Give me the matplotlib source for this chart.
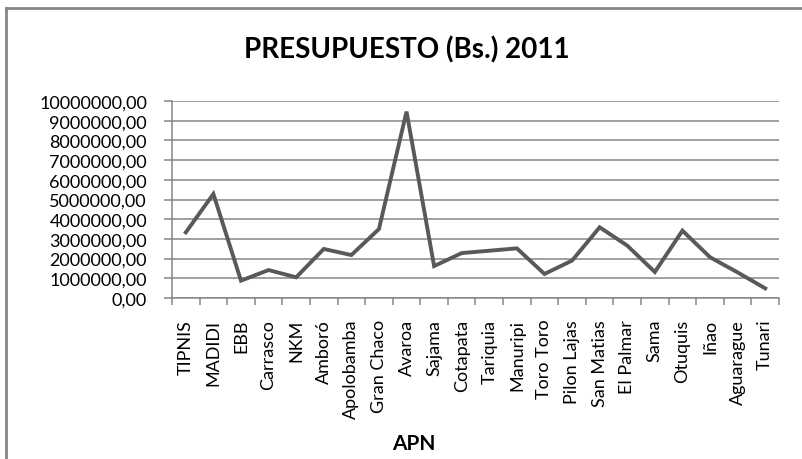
import numpy as np
import matplotlib.pyplot as plt
from matplotlib.lines import Line2D

plt.rcParams['font.family']=['Lato','DejaVu Sans']

# data (Bs.)
apn=['TIPNIS','MADIDI','EBB','Carrasco','NKM','Amboró','Apolobamba','Gran Chaco',
     'Avaroa','Sajama','Cotapata','Tariquia','Manuripi','Toro Toro','Pilon Lajas',
     'San Matias','El Palmar','Sama','Otuquis','Iñao','Aguarague','Tunari']
presupuesto=[3330000,5280000,880000,1420000,1050000,2490000,2180000,3500000,
             9460000,1620000,2280000,2400000,2520000,1220000,1900000,
             3590000,2660000,1320000,3420000,2070000,1300000,490000]
yticks=np.arange(0,10000001,1000000)

W,H=803,460
fig=plt.figure(figsize=(W/100,H/100),dpi=100)
ax=fig.add_axes([172/W,1-299/H,607/W,197/H])

GRID='#868686'
x=np.arange(len(apn))
ax.plot(x,presupuesto,color='#595959',linewidth=2.8,solid_joinstyle='miter')

ax.set_xlim(-0.5,len(apn)-0.5)
ax.set_ylim(0,10000000)
ax.set_yticks(yticks)
ax.set_yticklabels([f"{v:.2f}".replace('.',',') for v in yticks],fontsize=13)
ax.yaxis.grid(True,color=GRID,linewidth=1.1)
ax.set_axisbelow(True)

ax.set_xticks(x)
ax.set_xticklabels(apn,rotation=90,fontsize=13)
ax.set_xticks(np.arange(-0.5,len(apn),1),minor=True)
ax.tick_params(axis='x',which='major',length=0,pad=15)
ax.tick_params(axis='x',which='minor',length=5,color=GRID,width=1.1)
ax.tick_params(axis='y',length=6,color=GRID,width=1.1,pad=12)

for s in ['top','right']:
    ax.spines[s].set_visible(False)
for s in ['left','bottom']:
    ax.spines[s].set_color(GRID)
    ax.spines[s].set_linewidth(1.1)

fig.text(407/W,1-50/H,'PRESUPUESTO (Bs.) 2011',ha='center',va='center',
         fontsize=20,fontweight='bold')
fig.text(414/W,1-444/H,'APN',ha='center',va='center',fontsize=15,fontweight='bold')

# chart frame (only left and top edges show)
fig.add_artist(Line2D([6/W,6/W],[0,1-9/H],transform=fig.transFigure,color=GRID,linewidth=2))
fig.add_artist(Line2D([6/W,1],[1-9/H,1-9/H],transform=fig.transFigure,color=GRID,linewidth=2))

fig.savefig('out.png',dpi=100)
